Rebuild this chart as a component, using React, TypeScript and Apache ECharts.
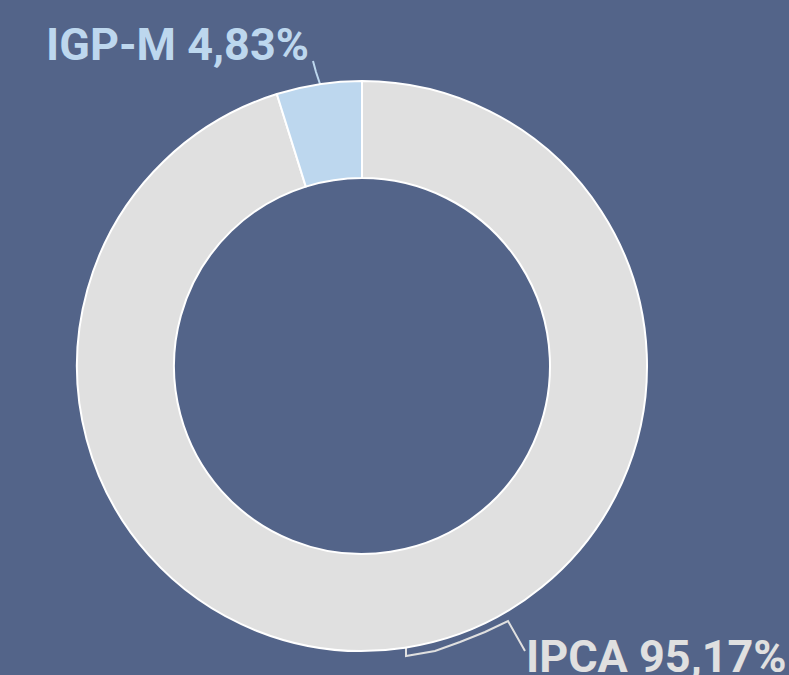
import React, { useEffect, useRef } from "react";
import * as echarts from "echarts";

const categories = ["IPCA", "IGP-M"];
const values = [95.17, 4.83];
const sliceColors = ["#e0e0e0", "#bdd7ee"];

export default function App() {
  const ref = useRef<HTMLDivElement>(null);
  useEffect(() => {
    document.body.style.margin = "0";
    const chart = echarts.init(ref.current!, null, { renderer: "svg" });
    const data = categories.map((name, i) => ({
      name,
      value: values[i],
      itemStyle: { color: sliceColors[i] },
      label: { color: sliceColors[i] },
      labelLine: { lineStyle: { color: sliceColors[i] } },
    }));
    chart.setOption({
      animation: false,
      backgroundColor: "#536489",
      series: [
        {
          type: "pie",
          center: [362, 366],
          radius: [188, 285],
          startAngle: 90,
          clockwise: true,
          itemStyle: { borderColor: "#ffffff", borderWidth: 2 },
          label: {
            show: true,
            position: "outside",
            fontFamily: "Roboto",
            fontWeight: "bold",
            fontSize: 45,
            formatter: (p: any) =>
              `${p.name} ${Number(p.value).toFixed(2).replace(".", ",")}%`,
          },
          labelLine: { show: true, lineStyle: { width: 2 } },
          labelLayout: (p: any) => {
            if (p.dataIndex === 1) {
              return {
                x: 309,
                y: 44,
                align: "right",
                verticalAlign: "middle",
                labelLinePoints: [
                  [320, 84],
                  [316, 72],
                  [313, 61],
                ],
              };
            }
            return {
              x: 526,
              y: 656,
              align: "left",
              verticalAlign: "middle",
              labelLinePoints: [
                [406, 648],
                [406, 656],
                [435, 651],
                [460, 642],
                [485, 632],
                [508, 621],
                [525, 651],
              ],
            };
          },
          data,
        },
      ],
    });
    return () => chart.dispose();
  }, []);
  return <div ref={ref} style={{ width: 789, height: 675 }} />;
}
